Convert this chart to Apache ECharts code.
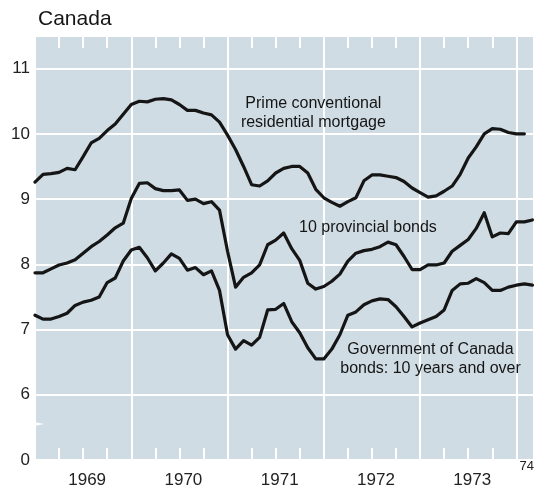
<!DOCTYPE html>
<html>
<head>
<meta charset="utf-8">
<script src="https://cdn.jsdelivr.net/npm/echarts@6/dist/echarts.min.js"></script>
<style>
  html, body { margin: 0; padding: 0; background: #ffffff; }
  #chart { width: 540px; height: 492px; }
</style>
</head>
<body>
<div id="chart"></div>
<script>
// Monthly long-term interest rates, Canada, January 1969 onward (per cent)
const yearLabels = ['1969', '1970', '1971', '1972', '1973'];
const endLabel = '74';
const yTicks = [5, 6, 7, 8, 9, 10, 11];

const mortgage = [
  9.26, 9.38, 9.39, 9.41, 9.47, 9.45, 9.65, 9.86, 9.93, 10.05, 10.15, 10.30,
  10.45, 10.50, 10.49, 10.53, 10.54, 10.52, 10.45, 10.36, 10.36, 10.32, 10.29, 10.18,
  9.98, 9.76, 9.50, 9.22, 9.20, 9.28, 9.40, 9.47, 9.50, 9.50, 9.40, 9.15,
  9.02, 8.95, 8.89, 8.96, 9.02, 9.28, 9.37, 9.37, 9.35, 9.33, 9.27, 9.17,
  9.10, 9.03, 9.05, 9.12, 9.20, 9.38, 9.63, 9.80, 10.00, 10.08, 10.07, 10.02,
  10.00, 10.00
];

const provincial = [
  7.87, 7.87, 7.93, 7.99, 8.02, 8.07, 8.17, 8.27, 8.35, 8.45, 8.56, 8.63,
  9.01, 9.24, 9.25, 9.16, 9.13, 9.13, 9.14, 8.98, 9.00, 8.93, 8.96, 8.83,
  8.20, 7.65, 7.80, 7.87, 7.99, 8.30, 8.37, 8.48, 8.24, 8.06, 7.71, 7.62,
  7.66, 7.74, 7.85, 8.05, 8.17, 8.21, 8.23, 8.27, 8.34, 8.30, 8.12, 7.92,
  7.92, 7.99, 7.99, 8.02, 8.20, 8.29, 8.38, 8.55, 8.79, 8.42, 8.48, 8.47,
  8.65, 8.65, 8.68
];

const government = [
  7.22, 7.16, 7.16, 7.20, 7.25, 7.37, 7.42, 7.45, 7.50, 7.72, 7.79, 8.05,
  8.22, 8.26, 8.10, 7.90, 8.02, 8.16, 8.09, 7.91, 7.95, 7.84, 7.90, 7.60,
  6.92, 6.70, 6.83, 6.76, 6.88, 7.30, 7.31, 7.40, 7.12, 6.95, 6.72, 6.55,
  6.55, 6.70, 6.92, 7.22, 7.27, 7.38, 7.44, 7.47, 7.46, 7.35, 7.20, 7.04,
  7.10, 7.15, 7.20, 7.30, 7.60, 7.70, 7.71, 7.78, 7.72, 7.60, 7.60, 7.65,
  7.68, 7.70, 7.68
];

// Series captions, anchored in data space [month index, rate]
const mortgageCaption = { text: 'Prime conventional\nresidential mortgage', at: [34.7, 10.32] };
const provincialCaption = { text: '10 provincial bonds', at: [41.5, 8.57] };
const governmentCaption = { text: 'Government of Canada\nbonds: 10 years and over', at: [49.3, 6.54] };

const X_MAX = 62.2;
const FONT = '"Liberation Sans", Arial, Helvetica, sans-serif';
const INK = '#151515';

const chart = echarts.init(document.getElementById('chart'), null, { renderer: 'canvas' });

function toPairs(arr) { return arr.map((v, i) => [i, v]); }

function lineSeries(name, values, caption) {
  return {
    name: name,
    type: 'line',
    xAxisIndex: 0,
    yAxisIndex: 0,
    data: toPairs(values),
    showSymbol: false,
    symbol: 'none',
    smooth: false,
    lineStyle: { color: INK, width: 3.2, join: 'round', cap: 'round' },
    z: 5,
    markPoint: {
      silent: true,
      symbol: 'circle',
      symbolSize: 0,
      itemStyle: { color: 'rgba(0,0,0,0)' },
      label: {
        show: true,
        position: 'inside',
        formatter: caption.text,
        color: INK,
        fontFamily: FONT,
        fontSize: 16,
        lineHeight: 19,
        align: 'center'
      },
      data: [{ coord: caption.at }]
    }
  };
}

const baseX = { type: 'value', min: 0, max: X_MAX, gridIndex: 0 };

const option = {
  animation: false,
  backgroundColor: '#ffffff',
  title: {
    text: 'Canada',
    left: 33,
    top: 4,
    textStyle: { fontFamily: FONT, fontSize: 21, fontWeight: 'normal', color: INK }
  },
  grid: {
    left: 35, right: 6, top: 36, bottom: 32,
    show: true,
    backgroundColor: '#cfdce3',
    borderWidth: 0
  },
  xAxis: [
    // year boundaries as white rules
    Object.assign({}, baseX, {
      position: 'bottom',
      interval: 12,
      axisLine: { show: false },
      axisTick: { show: false },
      axisLabel: { show: false },
      splitLine: { show: true, lineStyle: { color: '#ffffff', width: 2 } }
    }),
    // quarterly notches along the bottom edge, with year names mid-year
    Object.assign({}, baseX, {
      position: 'bottom',
      interval: 3,
      axisLine: { show: false },
      axisTick: { show: true, inside: true, length: 12, lineStyle: { color: '#ffffff', width: 2 } },
      splitLine: { show: false },
      axisLabel: {
        show: true,
        margin: 12,
        color: '#222',
        fontFamily: FONT,
        fontSize: 17,
        padding: [0, 0, 0, 8],
        showMinLabel: false,
        showMaxLabel: false,
        formatter: function (v) {
          const r = Math.round(v);
          if (Math.abs(v - r) > 1e-6) return '';
          if (r % 12 === 6) {
            const idx = (r - 6) / 12;
            return yearLabels[idx] || '';
          }
          return '';
        }
      }
    }),
    // quarterly notches along the top edge
    Object.assign({}, baseX, {
      position: 'top',
      interval: 3,
      axisLine: { show: false },
      axisTick: { show: true, inside: true, length: 12, lineStyle: { color: '#ffffff', width: 2 } },
      axisLabel: { show: false },
      splitLine: { show: false }
    }),
    // closing year mark at the right end
    Object.assign({}, baseX, {
      position: 'bottom',
      interval: 12,
      axisLine: { show: false },
      axisTick: { show: false },
      splitLine: { show: false },
      axisLabel: {
        show: true,
        margin: 0,
        color: '#222',
        fontFamily: FONT,
        fontSize: 13,
        align: 'right',
        showMinLabel: false,
        showMaxLabel: true,
        formatter: function (v) { return v > X_MAX - 0.5 ? endLabel : ''; }
      }
    })
  ],
  yAxis: [{
    type: 'value',
    min: 5,
    max: 11.5,
    interval: 1,
    axisLine: { show: false },
    axisTick: { show: false },
    splitLine: { show: true, lineStyle: { color: '#ffffff', width: 2 } },
    axisLabel: {
      show: true,
      margin: 5,
      color: '#222',
      fontFamily: FONT,
      fontSize: 17,
      showMaxLabel: false,
      formatter: function (v) {
        if (v === 5) return '0';
        return yTicks.indexOf(v) >= 0 ? String(v) : '';
      }
    }
  }],
  series: [
    lineSeries('Prime conventional residential mortgage', mortgage, mortgageCaption),
    lineSeries('10 provincial bonds', provincial, provincialCaption),
    lineSeries('Government of Canada bonds: 10 years and over', government, governmentCaption)
  ]
};

chart.setOption(option);

// Scale-break notch on the left edge between 0 and 6
const p = chart.convertToPixel({ xAxisIndex: 0, yAxisIndex: 0 }, [0, 5.55]);
chart.setOption({
  graphic: [{
    type: 'polygon',
    silent: true,
    z: 10,
    shape: { points: [[p[0] - 5, p[1] - 3], [p[0] + 9, p[1]], [p[0] - 5, p[1] + 3]] },
    style: { fill: '#ffffff' }
  }]
});
</script>
</body>
</html>
